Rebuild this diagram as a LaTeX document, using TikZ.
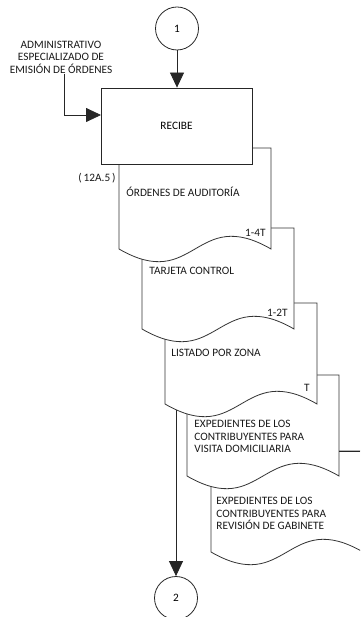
\documentclass[tikz,border=0pt]{standalone}
\usepackage{fontspec}
\setmainfont{Carlito}
\usetikzlibrary{arrows.meta,calc}
\newcommand\docpage[2]{% left edge, top edge of a document symbol
  \filldraw[docline] (#1,#2) -- (#1+152,#2) -- (#1+152,#2+101)
    .. controls (#1+76,#2+101-44) and (#1+76,#2+101+44) .. (#1,#2+101) -- cycle;}
\begin{document}
\begin{tikzpicture}[x=1pt,y=-1pt,
  line width=0.8pt,
  docline/.style={draw=black!80,fill=white,line width=0.8pt},
  conn/.style={draw=black!85,line width=0.8pt},
  arr/.style={conn,-{Triangle[length=15pt,width=14pt]}},
  txt/.style={font=\fontsize{11.3}{12.4}\selectfont,text=black!90,inner sep=0pt},
  ltxt/.style={txt,anchor=west,align=left},
  conncirc/.style={circle,draw=black!85,fill=white,minimum size=43pt,inner sep=0pt,font=\fontsize{11.3}{12.4}\selectfont},
  procbox/.style={rectangle,draw=black!85,fill=white,minimum width=151pt,minimum height=76pt,inner sep=0pt,font=\fontsize{11.3}{12.4}\selectfont}]
\useasboundingbox (0,0) rectangle (360,617);
\clip (0,0) rectangle (360,617);

% off-page connectors and process box
\node[conncirc] (c1) at (177,28.5) {1};
\node[conncirc] (c2) at (176,598) {2};
\coordinate (recibeTop) at (176.5,88);
\coordinate (recibeBot) at (176.5,164);

% flow down to connector 2 (runs behind the documents)
\draw[arr] (recibeBot -| c2) -- (c2.north);

% document stack, back to front
\docpage{211}{451}
\docpage{187}{375}
\draw[conn] (339,451) -- (360,451);
\docpage{165}{303}
\docpage{142}{228}
\docpage{119}{148}

\node[procbox] (recibe) at (176.5,126) {RECIBE};
\draw[arr] (c1.south) -- (recibe.north -| c1);

% responsible party
\node[txt,align=center] (admin) at (61,57) {ADMINISTRATIVO\\ESPECIALIZADO DE\\EMISIÓN DE ÓRDENES};
\coordinate (bend) at (64,115);
\coordinate (inpt) at (101,115);
\draw[arr] (bend |- admin.south) -- (bend) -- (inpt);

% document texts
\node[txt,anchor=east] (ref) at (116,178.5) {(\,12A.5\,)};
\node[ltxt] (d1) at (126,192) {ÓRDENES DE AUDITORÍA};
\node[txt,anchor=east] (n1) at (266,233) {1-4T};
\node[ltxt] (d2) at (149,271) {TARJETA CONTROL};
\node[txt,anchor=east] (n2) at (288,313) {1-2T};
\node[ltxt] (d3) at (171,353) {LISTADO POR ZONA};
\node[txt,anchor=east] (n3) at (310,388) {T};
\node[ltxt,anchor=north west] (d4) at (194,420) {EXPEDIENTES DE LOS\\CONTRIBUYENTES PARA\\VISITA DOMICILIARIA};
\node[ltxt,anchor=north west] (d5) at (216,497) {EXPEDIENTES DE LOS\\CONTRIBUYENTES PARA\\REVISIÓN DE GABINETE};
\end{tikzpicture}
\end{document}
